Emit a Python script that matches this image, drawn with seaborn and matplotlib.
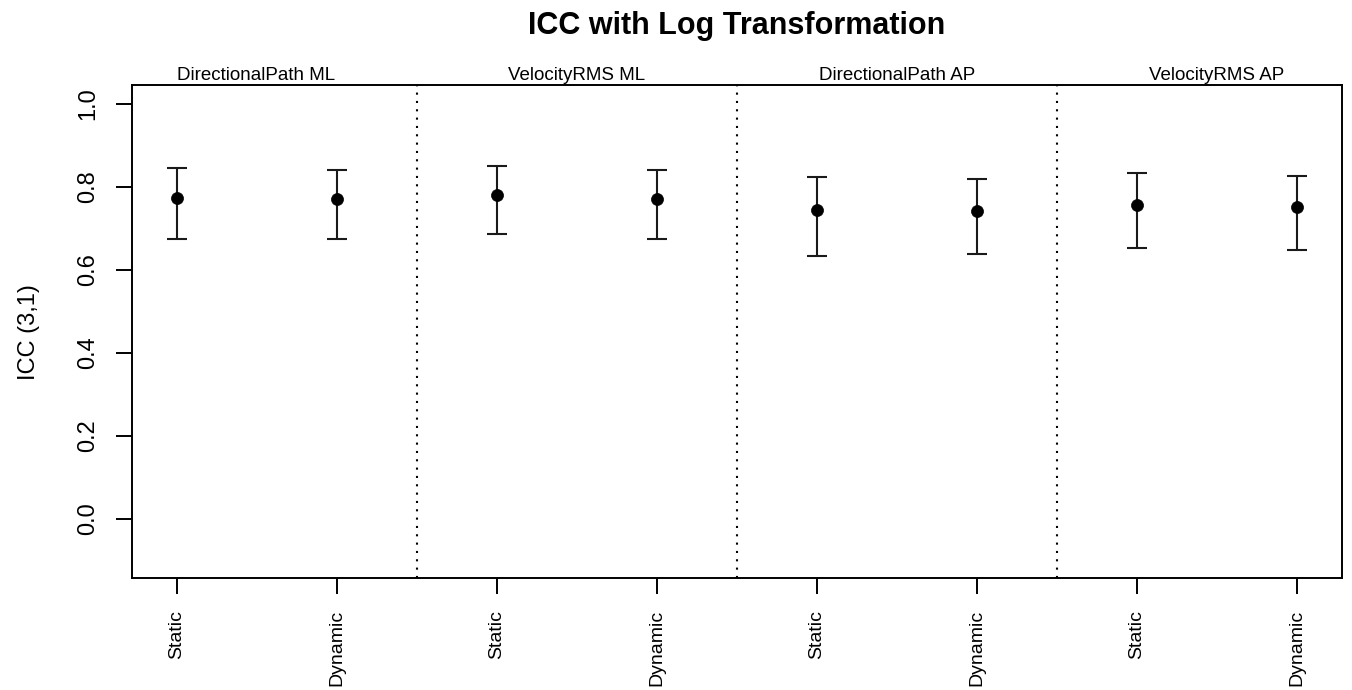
import numpy as np
import pandas as pd
import seaborn as sns
import matplotlib
matplotlib.use("Agg")
import matplotlib.pyplot as plt

# values
measures = ["DirectionalPath ML", "VelocityRMS ML", "DirectionalPath AP", "VelocityRMS AP"]
conditions = ["Static", "Dynamic"]
icc = [0.774, 0.770, 0.780, 0.771, 0.743, 0.741, 0.756, 0.751]
lower = [0.675, 0.673, 0.685, 0.674, 0.634, 0.637, 0.652, 0.648]
upper = [0.844, 0.841, 0.850, 0.841, 0.823, 0.819, 0.832, 0.826]

df = pd.DataFrame({
    "measure": np.repeat(measures, len(conditions)),
    "condition": conditions * len(measures),
    "icc": icc,
    "lower": lower,
    "upper": upper,
})
df["pos"] = np.arange(1, len(df) + 1)

sns.set_style("ticks")
plt.rcParams["font.family"] = ["Liberation Sans", "DejaVu Sans"]
plt.rcParams.update({"text.color": "black", "axes.labelcolor": "black",
                     "xtick.color": "black", "ytick.color": "black"})

fig = plt.figure(figsize=(13.52, 6.90), dpi=100)
ax = fig.add_axes([0.0974, 0.1616, 0.8952, 0.7145])

# confidence intervals
ax.errorbar(df["pos"], df["icc"],
            yerr=[df["icc"] - df["lower"], df["upper"] - df["icc"]],
            fmt="none", ecolor="#1a1a1a", elinewidth=1.5, capsize=7, capthick=1.5, zorder=2)
sns.scatterplot(data=df, x="pos", y="icc", ax=ax, color="black", s=75,
                edgecolor="black", linewidth=0.5, zorder=3, legend=False)

# separators between measures
for k in range(1, len(measures)):
    ax.axvline(k * len(conditions) + 0.5, color="black", lw=1.5, linestyle=(0, (1, 3)), zorder=1)

# measure names above each pair
for i, name in enumerate(measures):
    xc = df.loc[df["measure"] == name, "pos"].mean()
    ax.annotate(name, xy=(xc, 1.0), xycoords=("data", "axes fraction"),
                xytext=(0, 4), textcoords="offset points",
                ha="center", va="baseline", fontsize=13.5, color="black")

ax.set_xlim(0.72, 8.28)
ax.set_ylim(-0.144, 1.044)
ax.set_xticks(df["pos"])
ax.set_xticklabels(df["condition"], rotation=90, fontsize=14)
yt = [0.0, 0.2, 0.4, 0.6, 0.8, 1.0]
ax.set_yticks(yt)
ax.set_yticklabels([f"{v:.1f}" for v in yt], rotation=90, va="center", fontsize=17)
ax.tick_params(axis="both", length=11.5, width=1.4, color="black", labelcolor="black",
               direction="out")
ax.tick_params(axis="y", pad=12)
ax.tick_params(axis="x", pad=11)
for s in ax.spines.values():
    s.set_linewidth(1.4)
    s.set_color("black")
    s.set_visible(True)

ax.set_xlabel("")
ax.set_ylabel("ICC (3,1)", fontsize=17, color="black")
ax.yaxis.set_label_coords(-0.076, 0.5)

fig.text(0.545, 1 - 34 / 690, "ICC with Log Transformation", ha="center", va="baseline",
         fontsize=22, fontweight="bold", color="black")

fig.savefig("out.png", dpi=100)
